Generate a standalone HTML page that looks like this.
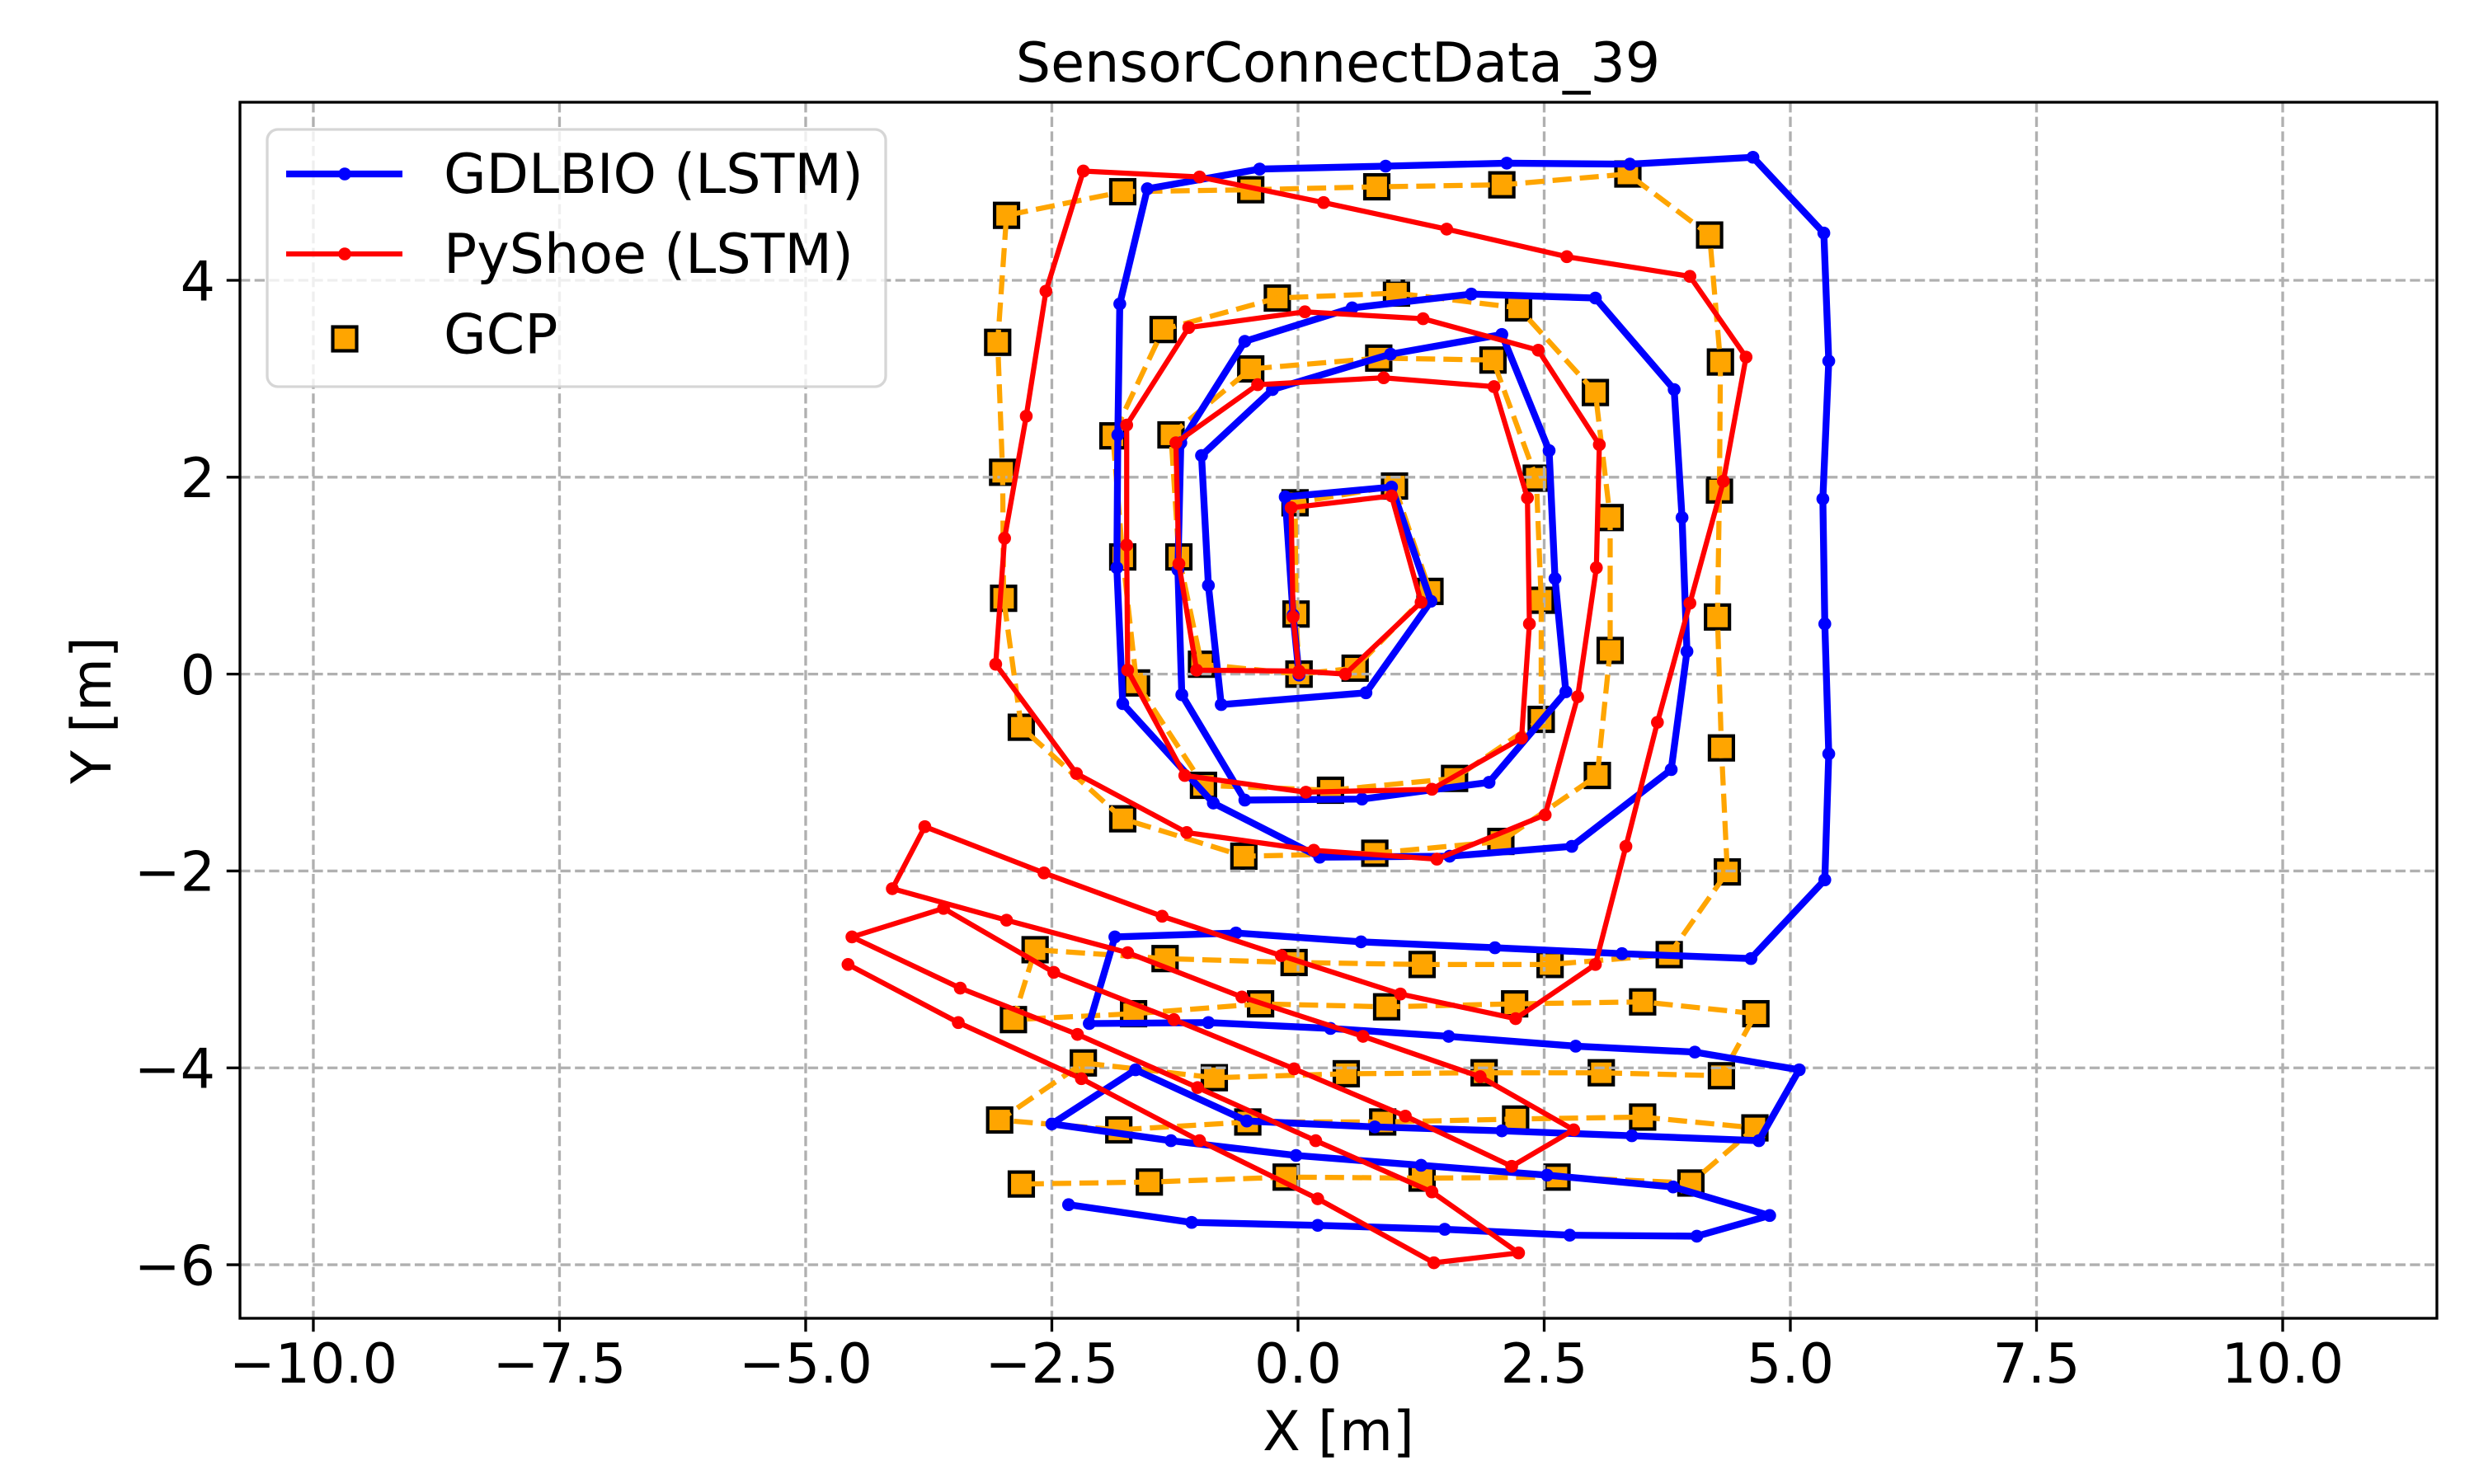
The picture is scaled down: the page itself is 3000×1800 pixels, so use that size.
<!DOCTYPE html>
<html>
<head>
<meta charset="utf-8">
<title>SensorConnectData_39</title>
<style>
html,body{margin:0;padding:0;background:#fff;width:3000px;height:1800px;overflow:hidden}
svg{display:block}
text{font-family:"DejaVu Sans","Liberation Sans",sans-serif;font-size:66.67px;fill:#000;text-rendering:geometricPrecision}
</style>
</head>
<body>
<svg id="chart" xmlns="http://www.w3.org/2000/svg" width="3000" height="1800" viewBox="0 0 3000 1800">
  <rect x="0" y="0" width="3000" height="1800" fill="#fff"/>
  <g id="gcp-markers"></g>
  <g id="grid"></g>
  <g id="series"></g>
  <g id="frame"></g>
  <g id="ticks"></g>
  <text x="1622.5" y="99" text-anchor="middle">SensorConnectData_39</text>
  <text x="1623" y="1759" text-anchor="middle">X [m]</text>
  <text transform="translate(134,861.5) rotate(-90)" text-anchor="middle">Y [m]</text>
  <g>
    <rect x="324" y="157" width="750" height="312" rx="13" ry="13" fill="#fff" fill-opacity="0.8" stroke="#cccccc" stroke-opacity="0.8" stroke-width="3.33"/>
    <g>
      <line x1="347" y1="211" x2="488" y2="211" stroke="#0000ff" stroke-width="8.33"/>
      <circle cx="418" cy="211" r="7.8" fill="#0000ff"/>
      <text x="538" y="234">GDLBIO (LSTM)</text>
    </g>
    <g>
      <line x1="347" y1="308" x2="488" y2="308" stroke="#ff0000" stroke-width="6.25"/>
      <circle cx="418" cy="308" r="7.8" fill="#ff0000"/>
      <text x="538" y="331">PyShoe (LSTM)</text>
    </g>
    <g>
      <rect x="403.5" y="396.5" width="29" height="29" fill="#ffa500" stroke="#000" stroke-width="4.17"/>
      <text x="538" y="428.5">GCP</text>
    </g>
  </g>
</svg>
<script>
var gdlbioX = [.01,-.05,-.13,.95,1.35,.69,-.78,-.91,-.98,-.26,.94,2.07,2.55,2.61,2.72,1.94,.65,-.54,-1.18,-1.22,-1.19,-.54,.55,1.76,3.02,3.82,3.9,3.95,3.79,2.78,1.54,.22,-.86,-1.78,-1.84,-1.83,-1.81,-1.53,-.39,.89,2.12,3.37,4.62,5.34,5.39,5.33,5.35,5.39,5.35,4.6,3.29,2.0,.64,-.63,-1.86,-2.12,-.91,.33,1.53,2.82,4.03,5.09,4.68,3.39,2.07,.78,-.52,-1.65,-2.5,-1.29,-.02,1.25,2.53,3.81,4.79,4.05,2.76,1.49,.2,-1.08,-2.33];
var gdlbioY = [-.01,.6,1.8,1.9,.74,-.19,-.31,.9,2.22,2.89,3.25,3.45,2.27,.97,-.18,-1.1,-1.27,-1.28,-.21,1.06,2.35,3.38,3.72,3.86,3.82,2.89,1.59,.23,-.97,-1.75,-1.85,-1.86,-1.31,-.3,1.08,2.43,3.76,4.93,5.13,5.16,5.19,5.18,5.25,4.48,3.18,1.78,.51,-.81,-2.09,-2.89,-2.84,-2.78,-2.72,-2.63,-2.67,-3.55,-3.54,-3.6,-3.68,-3.78,-3.84,-4.02,-4.74,-4.69,-4.64,-4.6,-4.54,-4.02,-4.57,-4.74,-4.89,-4.99,-5.09,-5.21,-5.5,-5.71,-5.7,-5.64,-5.6,-5.57,-5.39];
var pyshoeX = [.01,-.05,-.07,.95,1.25,.48,.01,-1.03,-1.21,-1.24,-.41,.87,1.99,2.33,2.35,2.27,1.36,.08,-1.15,-1.73,-1.74,-1.74,-1.11,.07,1.27,2.44,3.06,3.03,2.84,2.51,1.41,.16,-1.13,-2.25,-3.07,-2.98,-2.76,-2.56,-2.18,-1.0,.26,1.51,2.73,3.98,4.55,4.32,3.98,3.65,3.33,3.02,2.21,1.04,-.17,-1.38,-2.58,-3.79,-4.12,-2.96,-1.73,-.57,.66,1.85,2.8,2.17,1.09,-.04,-1.26,-2.48,-3.6,-4.53,-3.43,-2.24,-1.02,.18,1.36,2.24,1.38,.2,-1.0,-2.2,-3.45,-4.57];
var pyshoeY = [.01,.58,1.69,1.81,.73,0,.03,.04,1.12,2.35,2.94,3.01,2.92,1.79,.51,-.65,-1.17,-1.2,-1.03,.04,1.31,2.53,3.52,3.68,3.61,3.29,2.33,1.08,-.23,-1.43,-1.88,-1.79,-1.61,-1.01,.1,1.38,2.62,3.89,5.11,5.05,4.79,4.52,4.24,4.04,3.22,1.96,.72,-.49,-1.75,-2.95,-3.5,-3.25,-2.86,-2.46,-2.02,-1.55,-2.18,-2.5,-2.83,-3.28,-3.68,-4.09,-4.63,-5.0,-4.49,-4.01,-3.51,-3.03,-2.38,-2.67,-3.19,-3.66,-4.2,-4.74,-5.26,-5.88,-5.98,-5.33,-4.74,-4.11,-3.54,-2.95];
var gcpX = [.01,-.02,-.03,.98,1.34,.58,.01,-.98,-1.21,-1.29,-.48,.82,1.98,2.42,2.47,2.47,1.59,.33,-.96,-1.64,-1.78,-1.88,-1.37,-.21,1.0,2.24,3.02,3.17,3.17,3.04,2.06,.78,-.55,-1.78,-2.81,-2.99,-3.0,-3.05,-2.96,-1.78,-.48,.8,2.07,3.35,4.18,4.29,4.28,4.26,4.3,4.36,3.77,2.56,1.26,-.04,-1.35,-2.67,-2.89,-1.67,-.38,.9,2.2,3.5,4.65,4.3,3.08,1.89,.49,-.85,-2.18,-3.03,-1.82,-.51,.86,2.21,3.5,4.64,3.99,2.63,1.26,-.12,-1.51,-2.81];
var gcpY = [0,.61,1.74,1.91,.84,.06,0,.1,1.19,2.43,3.1,3.21,3.19,1.99,.75,-.46,-1.06,-1.18,-1.13,-.09,1.19,2.42,3.5,3.82,3.87,3.72,2.86,1.59,.24,-1.03,-1.7,-1.82,-1.85,-1.47,-.54,.77,2.05,3.37,4.66,4.9,4.92,4.95,4.97,5.08,4.46,3.17,1.87,.58,-.75,-2.01,-2.85,-2.95,-2.95,-2.93,-2.89,-2.8,-3.51,-3.45,-3.35,-3.38,-3.35,-3.33,-3.45,-4.08,-4.05,-4.05,-4.06,-4.1,-3.95,-4.53,-4.63,-4.55,-4.55,-4.52,-4.5,-4.61,-5.17,-5.11,-5.12,-5.11,-5.16,-5.18];
var xTickValues = [-10,-7.5,-5,-2.5,0,2.5,5,7.5,10];
var xTickLabels = ["\u221210.0","\u22127.5","\u22125.0","\u22122.5","0.0","2.5","5.0","7.5","10.0"];
var yTickValues = [-6,-4,-2,0,2,4];
var yTickLabels = ["\u22126","\u22124","\u22122","0","2","4"];

var xDomain = [-10.745, 11.566];
var yDomain = [-6.544, 5.809];

var plotLeft = 291, plotRight = 2955, plotTop = 124, plotBottom = 1599;
var SVGNS = 'http://www.w3.org/2000/svg';

function xScale(v) {
  return plotLeft + (v - xDomain[0]) / (xDomain[1] - xDomain[0]) * (plotRight - plotLeft);
}
function yScale(v) {
  return plotBottom - (v - yDomain[0]) / (yDomain[1] - yDomain[0]) * (plotBottom - plotTop);
}
function make(tag, attrs, parent) {
  var el = document.createElementNS(SVGNS, tag);
  for (var k in attrs) el.setAttribute(k, attrs[k]);
  parent.appendChild(el);
  return el;
}
function pointsOf(xs, ys) {
  return xs.map(function (x, i) { return xScale(x).toFixed(2) + ',' + yScale(ys[i]).toFixed(2); }).join(' ');
}

var gcpLayer = document.getElementById('gcp-markers');
var gridLayer = document.getElementById('grid');
var seriesLayer = document.getElementById('series');
var frameLayer = document.getElementById('frame');
var tickLayer = document.getElementById('ticks');

// GCP square markers sit beneath the grid
gcpX.forEach(function (x, i) {
  var sq = make('rect', {
    x: xScale(x) - 14.5, y: yScale(gcpY[i]) - 14.5, width: 29, height: 29,
    fill: '#ffa500', stroke: '#000', 'stroke-width': 4.17
  }, gcpLayer);
  
  
});

// Grid lines
xTickValues.forEach(function (v) {
  var g = make('line', {
    x1: xScale(v), x2: xScale(v), y1: plotTop, y2: plotBottom,
    stroke: '#b0b0b0', 'stroke-width': 3.33, 'stroke-dasharray': '12.33 5.33'
  }, gridLayer);
  
  
});
yTickValues.forEach(function (v) {
  var g = make('line', {
    x1: plotLeft, x2: plotRight, y1: yScale(v), y2: yScale(v),
    stroke: '#b0b0b0', 'stroke-width': 3.33, 'stroke-dasharray': '12.33 5.33'
  }, gridLayer);
  
  
});

// GCP dashed line
var gcpLine = make('polyline', {
  points: pointsOf(gcpX, gcpY), fill: 'none', stroke: '#ffa500',
  'stroke-width': 6.25, 'stroke-dasharray': '23.1 10', 'stroke-linejoin': 'round'
}, seriesLayer);



// GDLBIO line and points
var blueLine = make('polyline', {
  points: pointsOf(gdlbioX, gdlbioY), fill: 'none', stroke: '#0000ff',
  'stroke-width': 8.33, 'stroke-linejoin': 'round', 'stroke-linecap': 'square'
}, seriesLayer);


gdlbioX.forEach(function (x, i) {
  var c = make('circle', { cx: xScale(x), cy: yScale(gdlbioY[i]), r: 7.8, fill: '#0000ff' }, seriesLayer);
  
  
});

// PyShoe line and points
var redLine = make('polyline', {
  points: pointsOf(pyshoeX, pyshoeY), fill: 'none', stroke: '#ff0000',
  'stroke-width': 6.25, 'stroke-linejoin': 'round', 'stroke-linecap': 'square'
}, seriesLayer);


pyshoeX.forEach(function (x, i) {
  var c = make('circle', { cx: xScale(x), cy: yScale(pyshoeY[i]), r: 7.8, fill: '#ff0000' }, seriesLayer);
  
  
});

// Axes frame
var frame = make('rect', {
  x: plotLeft, y: plotTop, width: plotRight - plotLeft, height: plotBottom - plotTop,
  fill: 'none', stroke: '#000', 'stroke-width': 3.33
}, frameLayer);



// Ticks and labels
xTickValues.forEach(function (v, i) {
  var t = make('line', {
    x1: xScale(v), x2: xScale(v), y1: plotBottom, y2: plotBottom + 14.6 + 1.67,
    stroke: '#000', 'stroke-width': 3.33
  }, tickLayer);
  
  
  var l = make('text', { x: xScale(v), y: 1677, 'text-anchor': 'middle' }, tickLayer);
  l.textContent = xTickLabels[i];
  
  
});
yTickValues.forEach(function (v, i) {
  var t = make('line', {
    x1: plotLeft - 14.6 - 1.67, x2: plotLeft, y1: yScale(v), y2: yScale(v),
    stroke: '#000', 'stroke-width': 3.33
  }, tickLayer);
  
  
  var l = make('text', { x: 261, y: yScale(v) + 24.3, 'text-anchor': 'end' }, tickLayer);
  l.textContent = yTickLabels[i];
  
  
});
</script>
</body>
</html>
